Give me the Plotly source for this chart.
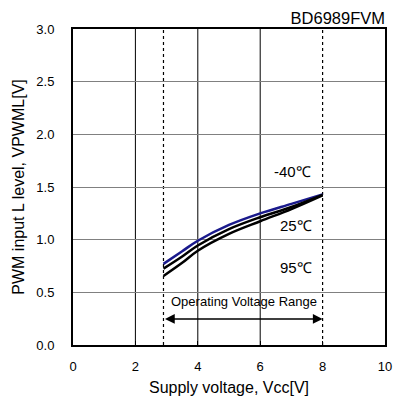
import plotly.graph_objects as go

vcc = [2.9, 3.5, 4, 5, 6, 7, 8]
v_m40 = [0.77, 0.89, 0.99, 1.14, 1.25, 1.34, 1.43]
v_25 = [0.725, 0.84, 0.945, 1.10, 1.213, 1.31, 1.425]
v_95 = [0.655, 0.78, 0.895, 1.055, 1.175, 1.29, 1.42]

series = [("-40℃", v_m40, "#1a1a8c"), ("25℃", v_25, "black"), ("95℃", v_95, "black")]
label_pos = [("-40℃", 7.05, 1.65), ("25℃", 7.16, 1.135), ("95℃", 7.16, 0.74)]

solid_v = [2, 4, 6]
dotted_v = [2.9, 8]
range_lo, range_hi = 2.9, 8
arrow_y = 0.247
range_text_x, range_text_y = 5.48, 0.41

FONT = "Liberation Sans, Arial, sans-serif"
W, H = 387, 394

fig = go.Figure()
for name, ys, col in series:
    fig.add_trace(go.Scatter(x=vcc, y=ys, mode="lines", name=name,
                             line=dict(color=col, width=2.5, shape="spline"),
                             showlegend=False))

shapes = []
for xv in solid_v:
    shapes.append(dict(type="line", xref="x", yref="paper", x0=xv, x1=xv, y0=0, y1=1,
                       line=dict(color="black", width=1), layer="below"))
for xv in dotted_v:
    shapes.append(dict(type="line", xref="x", yref="paper", x0=xv, x1=xv, y0=0, y1=1,
                       line=dict(color="black", width=1.2, dash="dot"), layer="below"))

annotations = []
for txt, xx, yy in label_pos:
    annotations.append(dict(x=xx, y=yy, xref="x", yref="y", text=txt, showarrow=False,
                            font=dict(size=15, color="black", family=FONT)))
annotations.append(dict(x=range_text_x, y=range_text_y, xref="x", yref="y",
                        text="Operating Voltage Range", showarrow=False,
                        font=dict(size=13, color="black", family=FONT)))
annotations.append(dict(x=range_hi, y=arrow_y, ax=range_lo, ay=arrow_y, xref="x", yref="y",
                        axref="x", ayref="y", text="", showarrow=True,
                        arrowhead=2, arrowside="end+start", arrowsize=1.3, arrowwidth=1.5,
                        arrowcolor="black"))

fig.update_layout(
    width=W, height=H,
    margin=dict(l=65, r=10, t=21, b=57, autoexpand=False),
    paper_bgcolor="white", plot_bgcolor="white",
    font=dict(family=FONT, size=13, color="black"),
    title=dict(text="BD6989FVM", x=1, xref="paper", xanchor="right",
               y=1 - 10.5 / H, yref="container", yanchor="middle",
               font=dict(size=16.5, color="black", family=FONT)),
    shapes=shapes, annotations=annotations,
    xaxis=dict(range=[0, 10], dtick=2, tick0=0, showgrid=False, zeroline=False,
               automargin=False,
               showline=True, linecolor="black", linewidth=2, mirror=True,
               ticks="inside", ticklen=4, tickcolor="black",
               ticklabelstandoff=8,
               tickfont=dict(size=13, family=FONT),
               title=dict(text="Supply voltage, Vcc[V]", font=dict(size=16, family=FONT), standoff=9)),
    yaxis=dict(range=[0, 3], dtick=0.5, tick0=0, tickformat=".1f", showgrid=True,
               automargin=False,
               gridcolor="#808080", gridwidth=1, zeroline=False,
               showline=True, linecolor="black", linewidth=2, mirror=True,
               ticks="", ticklabelstandoff=14, tickfont=dict(size=13, family=FONT),
               title=dict(text="PWM input L level, VPWML[V]", font=dict(size=16, family=FONT), standoff=8)),
)

fig.write_html("out.html")
